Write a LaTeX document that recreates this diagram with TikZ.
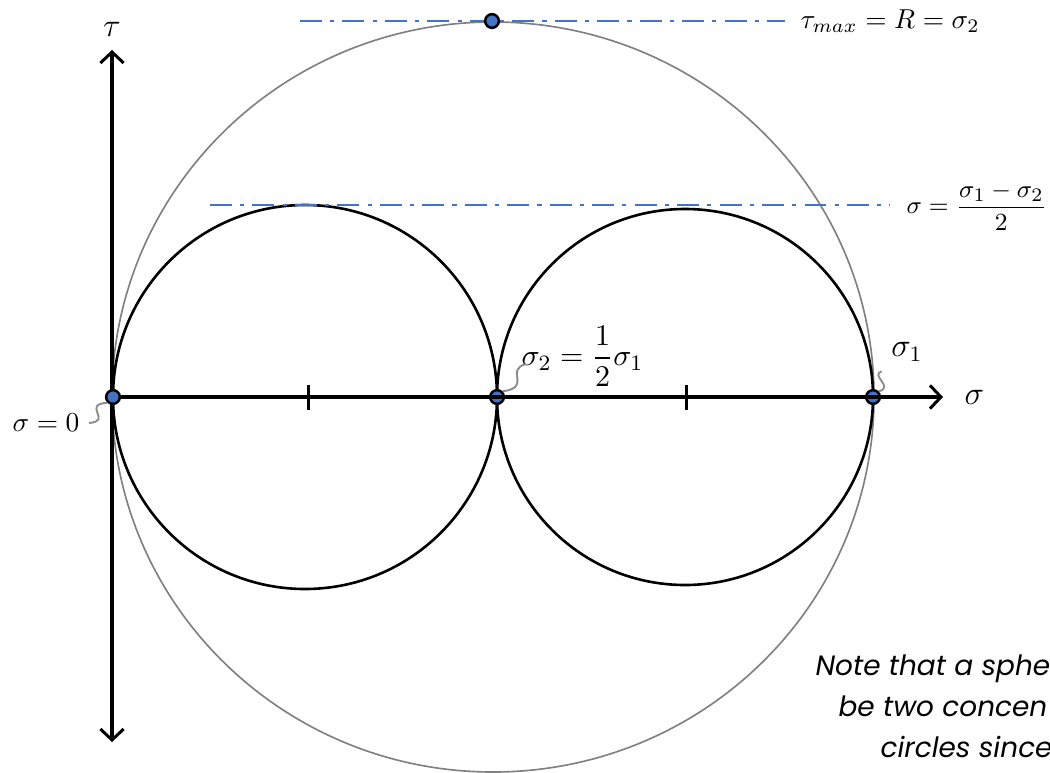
\documentclass[tikz,border=0pt]{standalone}
\usepackage{amsmath}
\usepackage{amssymb}
\usepackage{fontspec}
\usepackage{tikz}
\usetikzlibrary{arrows.meta}
\newfontfamily\notefont{Poppins}
\definecolor{ptblue}{RGB}{68,114,196}
\tikzset{
    pt/.style={circle,fill=ptblue,draw=black,line width=0.9pt,inner sep=0pt,minimum size=5pt},
    axisline/.style={line width=1.1pt,-{Straight Barb[length=4pt,width=8.5pt]}},
    mohr/.style={line width=0.95pt},
    refline/.style={ptblue,line width=0.85pt,dash pattern=on 8pt off 3pt on 1.5pt off 3pt},
    lead/.style={black!45,line width=0.7pt},
    note/.style={anchor=base west,inner sep=0pt,font=\notefont\itshape\fontsize{10.2}{14}\selectfont},
}

\begin{document}
\begin{tikzpicture}[x=0.365pt,y=-0.365pt]
    \useasboundingbox (0,0) rectangle (1050,772);
    \draw [black!50,line width=0.6pt] (493,397) ellipse [x radius=381,y radius=375];
    \draw [mohr] (305,397) circle (192);
    \draw [mohr] (685,397) circle (188);
    \coordinate (tauTop) at (112,50);
    \coordinate (tauBot) at (112,742);
    \coordinate (sigEnd) at (943,397);
    \draw [axisline,{Straight Barb[length=4pt,width=8.5pt]}-{Straight Barb[length=4pt,width=8.5pt]}] (tauBot)--(tauTop) node[above=1pt,font=\large]{$\tau$};
    \draw [line width=1.1pt] (308,385)--(308,410);
    \draw [line width=1.1pt] (686,385)--(686,410);
    \coordinate (top1) at (300,21);
    \coordinate (top2) at (785,21);
    \coordinate (mid1) at (210,205);
    \coordinate (mid2) at (890,205);
    \draw [refline] (top1)--(top2);
    \draw [refline] (mid1)--(mid2);
    \node[anchor=west,inner sep=0pt] (Ltau) at (800,21) {$\tau_{max} = R = \sigma_2$};
    \node[anchor=west,inner sep=0pt,font=\fontsize{9.4}{11}\selectfont] (Lhalf) at (906,207) {$\sigma = \dfrac{\sigma_1 - \sigma_2}{2}$};
    \node[pt] (O) at (113,397) {};
    \node[pt] (M) at (497,397) {};
    \node[pt] (S1) at (873,397) {};
    \draw [axisline] (O)--(sigEnd) node[right=4pt,font=\large]{$\sigma$};
    \node[pt] (T) at (492,21) {};
    \node (Lzero) at (46,423) {$\sigma = 0$};
    \node[anchor=west,inner sep=0pt,font=\fontsize{11}{13}\selectfont] (Lmid) at (521,356) {$\sigma_2 = \dfrac{1}{2}\sigma_1$};
    \node[font=\large] (LS1) at (907,352) {$\sigma_1$};
    \draw [lead] (O.south west) .. controls +(-26,2) and +(24,-2) .. (Lzero.east);
    \draw [lead] (M.north east) .. controls +(30,-4) and +(-22,6) .. ([shift={(5,8)}]Lmid.west);
    \draw [lead] (S1.north east) .. controls +(16,-4) and +(-12,4) .. (LS1.south west);
    \begin{scope}
        \clip (0,0) rectangle (1050,772);
        \node[note] (N1) at (815,675) {Note that a sphe};
        \node[note] (N2) at (838,716) {be two concen};
        \node[note] (N3) at (880,757) {circles since};
    \end{scope}
\end{tikzpicture}
\end{document}
